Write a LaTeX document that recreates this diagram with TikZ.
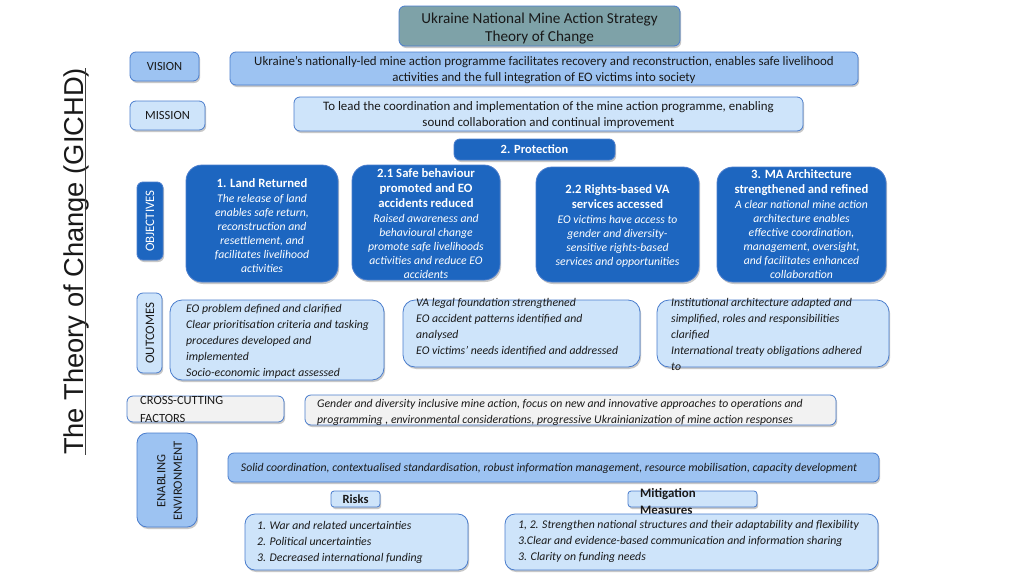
\documentclass[tikz,border=0pt]{standalone}
\usepackage{fontspec}
\setmainfont{Carlito}
\newfontfamily\arialf{Liberation Sans}
\usetikzlibrary{shadows}
\definecolor{dkblue}{RGB}{29,102,192}
\definecolor{vblue}{RGB}{157,195,242}
\definecolor{ltblue}{RGB}{206,228,250}
\definecolor{greyf}{RGB}{242,242,242}
\definecolor{titlef}{RGB}{126,162,168}
\definecolor{bordc}{RGB}{74,125,205}
\definecolor{txtc}{RGB}{25,25,25}
\newcommand\btf{\fontsize{12.7}{15}\selectfont\bfseries\upshape}
\begin{document}
\begin{tikzpicture}[x=1pt,y=-1pt,
  box/.style={draw=bordc, line width=0.8pt, rounded corners=6pt, inner sep=0pt,
    drop shadow={shadow xshift=1.2pt, shadow yshift=-2pt, opacity=0.3, fill=black!70}},
  bigbox/.style={box, rounded corners=16pt},
  dk/.style={fill=dkblue},
  vb/.style={fill=vblue},
  lt/.style={fill=ltblue},
  gr/.style={fill=greyf},
  txt/.style={inner sep=0pt, align=center, text=txtc, font=\fontsize{12.9}{16}\selectfont},
  lbl/.style={inner sep=0pt, align=center, text=txtc, font=\fontsize{12.5}{14}\selectfont},
  ltxt/.style={inner sep=0pt, align=left, text=txtc, font=\fontsize{11.75}{16}\selectfont\itshape},
  otxt/.style={inner sep=0pt, align=center, text=white, font=\fontsize{11.7}{14}\selectfont\itshape}
]
\useasboundingbox[fill=white] (0,0) rectangle (1024,576);

% vertical title
\node[inner sep=0pt, rotate=90, anchor=base, text=txtc, font=\arialf\fontsize{27.3}{30}\selectfont] (vt) at (83,261.5) {The Theory of Change (GICHD)};
\draw[line width=0.9pt, black!75] (85.5,68) -- (85.5,455);

% title
\node[box, fill=titlef, minimum width=281, minimum height=40] (title) at (539.5,26) {};
\node[txt, font=\fontsize{15.2}{18.5}\selectfont] (titlet) at (539.5,28.5) {Ukraine National Mine Action Strategy\\Theory of Change};

% vision / mission
\node[box, vb, minimum width=69, minimum height=29] (vis) at (164.5,66.5) {};
\node[lbl] at (vis.center) {VISION};
\node[box, vb, minimum width=628, minimum height=33] (vist) at (544,68.5) {};
\node[txt] at (544,70) {Ukraine’s nationally-led mine action programme facilitates recovery and reconstruction, enables safe livelihood\\activities and the full integration of EO victims into society};
\node[box, lt, minimum width=75, minimum height=29] (mis) at (167.5,115.5) {};
\node[lbl] at (mis.center) {MISSION};
\node[box, lt, minimum width=509, minimum height=34] (mist) at (548.5,114) {};
\node[txt] at (548.5,115) {To lead the coordination and implementation of the mine action programme, enabling\\sound collaboration and continual improvement};

% protection
\node[box, dk, minimum width=161, minimum height=21, text=white, font=\fontsize{12.5}{14}\selectfont\bfseries] (prot) at (534.5,149.5) {2. Protection};

% objectives
\node[box, dk, minimum width=26, minimum height=78] (objl) at (150,221) {};
\node[inner sep=0pt, rotate=90, text=white, font=\fontsize{12.9}{14}\selectfont] at (objl.center) {OBJECTIVES};
\node[bigbox, dk, minimum width=152, minimum height=117] (o1) at (262,223.5) {};
\node[otxt] at (262,225.5) {{\btf 1. Land Returned}\\[1pt]The release of land\\enables safe return,\\reconstruction and\\resettlement, and\\facilitates livelihood\\activities};
\node[bigbox, dk, minimum width=148, minimum height=115] (o21) at (426,222.5) {};
\node[otxt] at (426,223.5) {{\btf 2.1 Safe behaviour}\\[1pt]{\btf promoted and EO}\\[1pt]{\btf accidents reduced}\\[1pt]Raised awareness and\\behavioural change\\promote safe livelihoods\\activities and reduce EO\\accidents};
\node[bigbox, dk, minimum width=163, minimum height=115] (o22) at (617.5,224.5) {};
\node[otxt] at (617.5,225.5) {{\btf 2.2 Rights-based VA}\\[1pt]{\btf services accessed}\\[1pt]EO victims have access to\\gender and diversity-\\sensitive rights-based\\services and opportunities};
\node[bigbox, dk, minimum width=169, minimum height=115] (o3) at (801.5,224.5) {};
\node[otxt] at (801.5,224.5) {{\btf 3. MA Architecture}\\[1pt]{\btf strengthened and refined}\\[1pt]A clear national mine action\\architecture enables\\effective coordination,\\management, oversight,\\and facilitates enhanced\\collaboration};

% outcomes
\node[box, lt, minimum width=25, minimum height=80] (outl) at (149.5,333) {};
\node[inner sep=0pt, rotate=90, text=txtc, font=\fontsize{12.9}{14}\selectfont] at (150,333) {OUTCOMES};
\node[box, lt, rounded corners=12pt, minimum width=214, minimum height=80] (u1b) at (277,340) {};
\node[ltxt, anchor=north west] at (186,304.5) {EO problem defined and clarified\\Clear prioritisation criteria and tasking\\procedures developed and\\implemented\\Socio-economic impact assessed};
\node[box, lt, rounded corners=12pt, minimum width=237, minimum height=67] (u2b) at (521.5,333.5) {};
\node[ltxt, anchor=north west] at (416,298.5) {VA legal foundation strengthened\\EO accident patterns identified and\\analysed\\EO victims’ needs identified and addressed};
\node[box, lt, rounded corners=12pt, minimum width=232, minimum height=67] (u3b) at (773,333.5) {};
\node[ltxt, anchor=north west] at (671,298.5) {Institutional architecture adapted and\\simplified, roles and responsibilities\\clarified\\International treaty obligations adhered\\to};

% cross-cutting
\node[box, gr, minimum width=157, minimum height=26] (ccl) at (205.5,409) {};
\node[inner sep=0pt, align=left, text=txtc, anchor=north west, font=\fontsize{12.5}{18}\selectfont] at (140,396.5) {CROSS-CUTTING\\FACTORS};
\node[box, gr, minimum width=531, minimum height=30] (cct) at (570.5,410) {};
\node[ltxt, anchor=north west] at (317,399.5) {Gender and diversity inclusive mine action, focus on new and innovative approaches to operations and\\programming , environmental considerations, progressive Ukrainianization of mine action responses};

% enabling environment
\node[box, vb, rounded corners=10pt, minimum width=60, minimum height=94] (eel) at (167,480) {};
\node[inner sep=0pt, rotate=90, align=center, text=txtc, font=\fontsize{12.6}{16.5}\selectfont] at (169.5,481) {ENABLING\\ENVIRONMENT};
\node[box, vb, minimum width=651, minimum height=29] (eet) at (553.5,467.5) {};
\node[ltxt, align=center] at (549,468.5) {Solid coordination, contextualised standardisation, robust information management, resource mobilisation, capacity development};

% risks / mitigation
\node[box, lt, rounded corners=3pt, minimum width=49, minimum height=16, text=txtc, font=\fontsize{12.5}{14}\selectfont\bfseries] (risk) at (355.5,499) {Risks};
\node[box, lt, rounded corners=3pt, minimum width=129, minimum height=16] (mit) at (692.5,499) {};
\node[inner sep=0pt, align=left, text=txtc, anchor=north west, font=\fontsize{12.9}{17}\selectfont\bfseries] at (640,488) {Mitigation\\Measures};
\node[box, lt, rounded corners=10pt, minimum width=223, minimum height=56] (riskb) at (356.5,542) {};
\node[ltxt, anchor=north west] at (257,521.5) {1. War and related uncertainties\\2. Political uncertainties\\3. Decreased international funding};
\node[box, lt, rounded corners=10pt, minimum width=373, minimum height=56] (mitb) at (691.5,542) {};
\node[ltxt, anchor=north west] at (518,520.5) {1, 2. Strengthen national structures and their adaptability and flexibility\\3.Clear and evidence-based communication and information sharing\\3. Clarity on funding needs};
\end{tikzpicture}
\end{document}
